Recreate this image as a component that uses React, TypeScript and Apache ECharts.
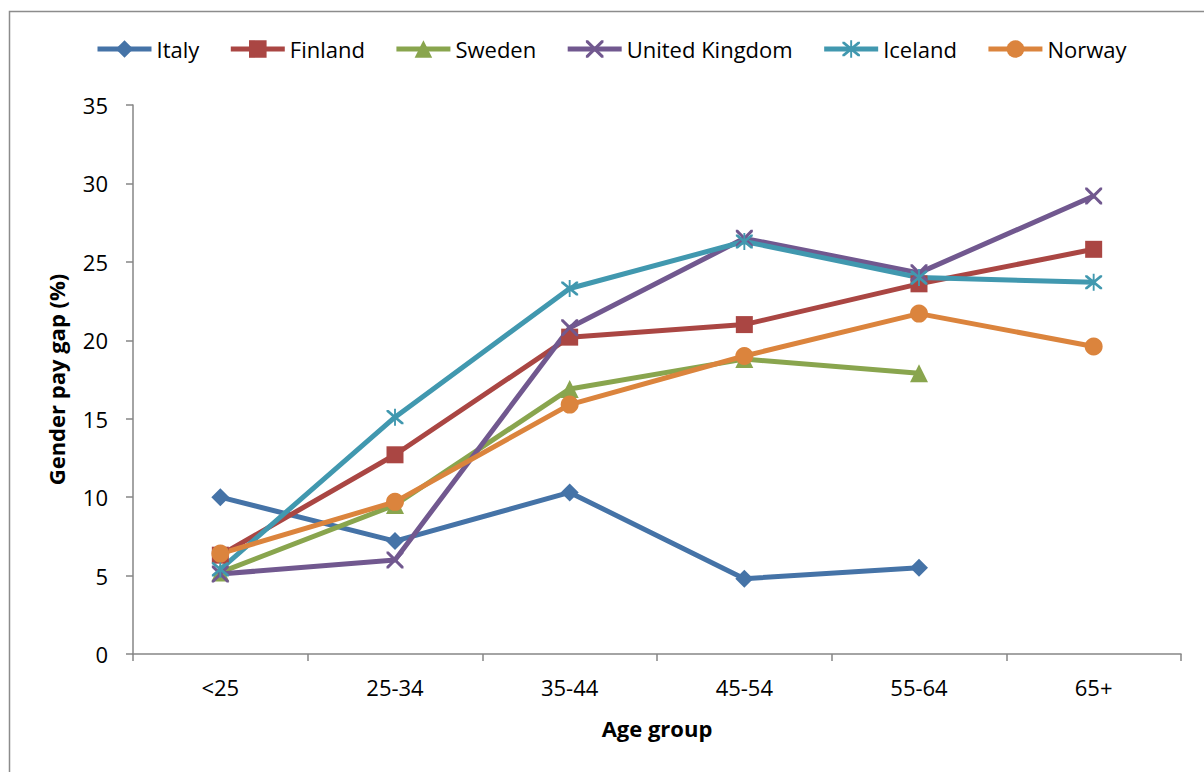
import React, { useEffect, useRef } from "react";
import * as echarts from "echarts";

const categories = ["<25", "25-34", "35-44", "45-54", "55-64", "65+"];
const italy = [10.0, 7.2, 10.3, 4.8, 5.5, null];
const finland = [6.3, 12.7, 20.2, 21.0, 23.6, 25.8];
const sweden = [5.2, 9.5, 16.9, 18.8, 17.9, null];
const unitedKingdom = [5.1, 6.0, 20.8, 26.5, 24.3, 29.2];
const iceland = [5.4, 15.1, 23.3, 26.3, 24.0, 23.7];
const norway = [6.4, 9.7, 15.9, 19.0, 21.7, 19.6];
const yTicks = [0, 5, 10, 15, 20, 25, 30, 35];
const seriesNames = ["Italy", "Finland", "Sweden", "United Kingdom", "Iceland", "Norway"];
const seriesColors = ["#4573A7", "#AA4643", "#89A54E", "#71588F", "#4198AF", "#DB843D"];

const FONT = "'Open Sans', sans-serif";
const FS = 22;
const X_PATH =
  "path://M0,0 L2.5,0 L10,7.5 L17.5,0 L20,0 L20,2.5 L12.5,10 L20,17.5 L20,20 L17.5,20 L10,12.5 L2.5,20 L0,20 L0,17.5 L7.5,10 L0,2.5 Z";
const STAR_PATH =
  "path://M0,0 L2.5,0 L10,7.5 L17.5,0 L20,0 L20,2.5 L12.5,10 L20,17.5 L20,20 L17.5,20 L10,12.5 L2.5,20 L0,20 L0,17.5 L7.5,10 L0,2.5 Z M8.9,-2 L11.1,-2 L11.1,22 L8.9,22 Z";
const seriesSymbols = ["diamond", "rect", "triangle", X_PATH, STAR_PATH, "circle"];
const seriesSizes = [18, 17, 18, 17, 17, 18];
const seriesData = [italy, finland, sweden, unitedKingdom, iceland, norway];

export default function App() {
  const ref = useRef<HTMLDivElement>(null);
  useEffect(() => {
    if (!ref.current) return;
    const chart = echarts.init(ref.current, undefined, { renderer: "svg" });
    chart.setOption({
      animation: false,
      color: seriesColors,
      graphic: [
        {
          type: "rect",
          shape: { x: 9.5, y: 11.5, width: 1300, height: 900 },
          style: { fill: "none", stroke: "#8c8c8c", lineWidth: 1.5 },
          silent: true,
        },
      ],
      legend: {
        top: 33,
        left: 90,
        itemWidth: 54,
        itemHeight: 22,
        itemGap: 29,
        textStyle: { fontFamily: FONT, fontSize: FS, color: "#000" },
        lineStyle: { width: 5 },
        data: seriesNames,
      },
      grid: { left: 133, right: 23, top: 105, bottom: 118, containLabel: false },
      xAxis: {
        type: "category",
        data: categories,
        boundaryGap: true,
        name: "Age group",
        nameLocation: "middle",
        nameGap: 63,
        nameTextStyle: { fontFamily: FONT, fontSize: FS, fontWeight: "bold", color: "#000" },
        axisLine: { lineStyle: { color: "#868686", width: 1.5 } },
        axisTick: { show: true, length: 7, lineStyle: { color: "#868686", width: 1.5 } },
        axisLabel: { fontFamily: FONT, fontSize: FS, color: "#000", margin: 22 },
        splitLine: { show: false },
      },
      yAxis: {
        type: "value",
        min: yTicks[0],
        max: yTicks[yTicks.length - 1],
        interval: 5,
        name: "Gender pay gap (%)",
        nameLocation: "middle",
        nameGap: 66,
        nameRotate: 90,
        nameTextStyle: { fontFamily: FONT, fontSize: FS, fontWeight: "bold", color: "#000" },
        axisLine: { show: true, lineStyle: { color: "#868686", width: 1.5 } },
        axisTick: { show: true, length: 7, lineStyle: { color: "#868686", width: 1.5 } },
        axisLabel: { fontFamily: FONT, fontSize: FS, color: "#000", margin: 25 },
        splitLine: { show: false },
      },
      series: seriesNames.map((name, i) => ({
        name,
        type: "line",
        data: seriesData[i],
        connectNulls: false,
        symbol: seriesSymbols[i],
        symbolSize: seriesSizes[i],
        lineStyle: { color: seriesColors[i], width: 5 },
        itemStyle: { color: seriesColors[i], borderWidth: 0 },
        emphasis: { disabled: true },
      })),
    });
    return () => chart.dispose();
  }, []);
  return (
    <div
      ref={ref}
      style={{ position: "fixed", left: 0, top: 0, width: 1204, height: 772, background: "#fff" }}
    />
  );
}
